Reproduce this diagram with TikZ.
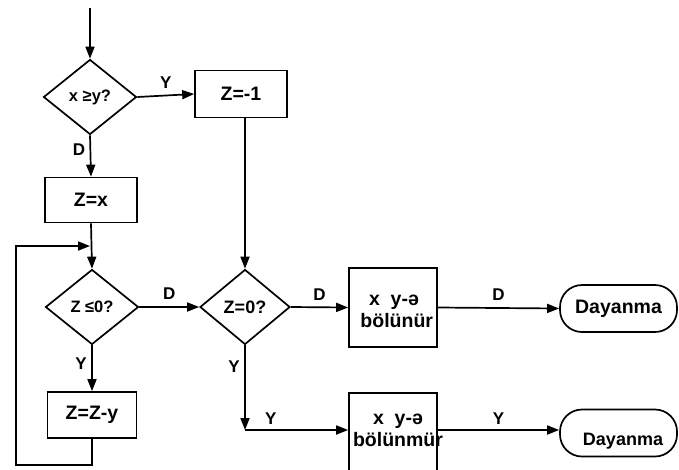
\documentclass[tikz,border=0pt]{standalone}
\usepackage{fontspec}
\setmainfont{Liberation Sans}
\usetikzlibrary{shapes.geometric,arrows.meta}
\begin{document}
\begin{tikzpicture}[x=1pt,y=-1pt,
  every node/.style={font=\bfseries\fontsize{19.5}{21}\selectfont},
  ln/.style={line width=1.7pt},
  arr/.style={ln,-{Triangle[length=12pt,width=9pt]}},
  dec/.style={draw,ln,diamond,inner sep=0pt,minimum width=93pt,minimum height=75pt},
  proc/.style={draw,ln,rectangle,inner sep=0pt},
  term/.style={draw,ln,rectangle,rounded corners=22pt,inner sep=0pt,minimum width=117pt,minimum height=47pt},
  lbl/.style={font=\bfseries\fontsize{17}{19}\selectfont}]
\useasboundingbox (0,0) rectangle (679,469);
\clip (0,0) rectangle (679,469);
\coordinate (start) at (90,8);
\node[dec,font=\bfseries\fontsize{16.5}{18}\selectfont] (d1) at (90,97) {x ≥y?};
\node[proc,minimum width=92pt,minimum height=47pt] (zm1) at (241,94) {Z=-1};
\node[proc,minimum width=92pt,minimum height=45pt] (zx) at (91,200) {Z=x};
\node[dec,font=\bfseries\fontsize{16.5}{18}\selectfont] (d2) at (92,307) {Z ≤0?};
\node[dec,minimum width=90pt,font=\bfseries\fontsize{18}{20}\selectfont] (d3) at (245,307) {Z=0?};
\node[proc,minimum width=89pt,minimum height=46pt] (zzy) at (92,415) {Z=Z-y};
\node[proc,minimum width=88pt,minimum height=79pt] (b1) at (393,307.5) {};
\node[align=center] (b1t) at (394,311) {x\ \ y-ə\\[1pt]\ bölünür};
\node[proc,minimum width=88pt,minimum height=85pt] (b2) at (393,435.5) {};
\node[align=center] (b2t) at (398,430) {x\ \ y-ə\\[1pt]bölünmür};
\node[term] (t1) at (618.5,308.5) {Dayanma};
\node[term] (t2) at (618.5,433) {};
\node[font=\bfseries\fontsize{18}{20}\selectfont] (t2t) at (623,441) {Dayanma};
\coordinate (loopin) at (90,246);
\coordinate (c3) at (245,430);
% connectors
\draw[arr] (start) -- (d1.north);
\draw[arr] (d1.east) -- node[above=3pt,lbl]{Y} (zm1.west);
\draw[arr] (d1.south) -- node[left=1pt,lbl,pos=0.35]{D} (zx.north);
\draw[arr] (zx.south) -- (d2.north);
\draw[arr] (zzy.south) -- (92,465) -- (16,465) -- (16,246) -- (loopin);
\draw[arr] (d2.south) -- node[left=1pt,lbl,pos=0.4]{Y} (zzy.north);
\draw[arr] (d2.east) -- node[above=3pt,lbl]{D} (d3.west);
\draw[arr] (zm1.south -| d3.north) -- (d3.north);
\draw[arr] (d3.east) -- node[above=3pt,lbl]{D} (b1.west);
\draw[arr] (d3.south) -- node[left=1pt,lbl,pos=0.25]{Y} (c3);
\draw[arr] (c3) -- node[above=1pt,lbl,pos=0.25]{Y} (c3 -| b2.west);
\draw[arr] (b1.east) -- node[above=3pt,lbl]{D} (t1.west);
\draw[arr] (b2.east |- c3) -- node[above=1pt,lbl]{Y} (t2.west |- c3);
\end{tikzpicture}
\end{document}
